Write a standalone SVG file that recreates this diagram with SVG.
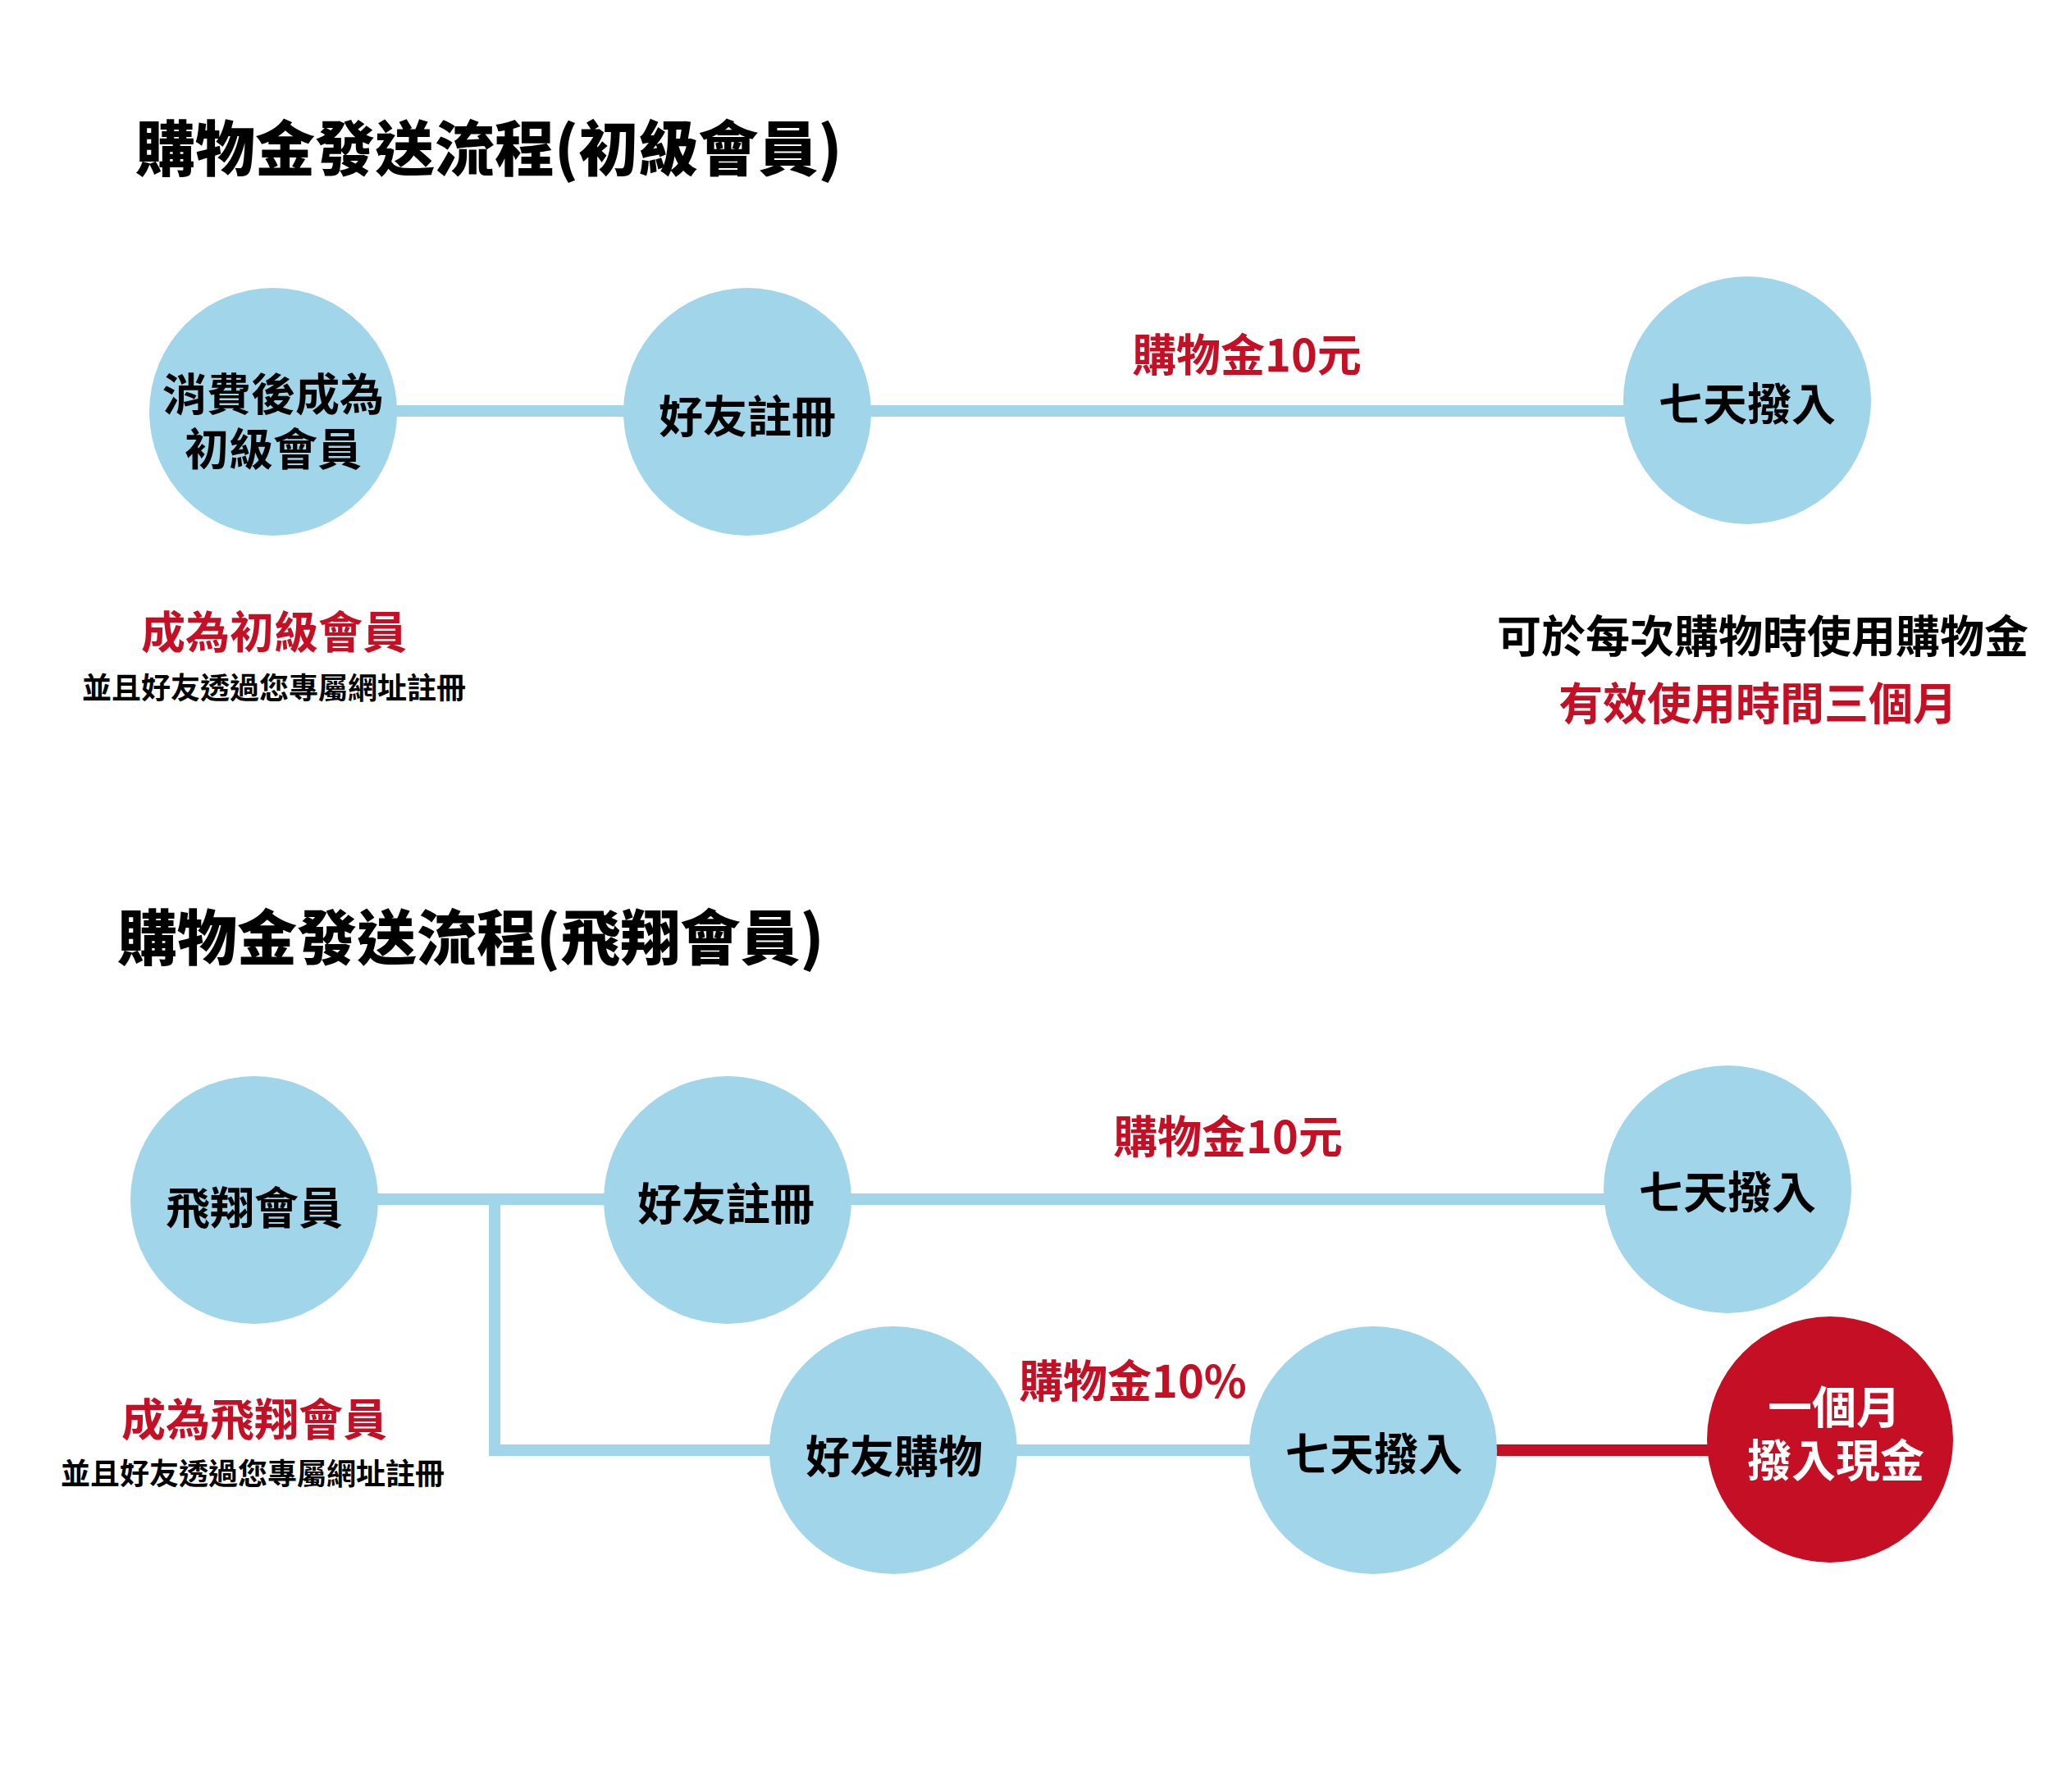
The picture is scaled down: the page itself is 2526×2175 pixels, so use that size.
<svg xmlns="http://www.w3.org/2000/svg" width="2526" height="2175" viewBox="0 0 2526 2175">
<style>
  text { font-family: "Noto Sans CJK TC", "Noto Sans CJK SC", sans-serif; font-weight: 700; }
  .title { font-size: 73px; font-weight: 900; fill: #000; }
  .node { fill: #a0d5ea; }
  .red-node { fill: #c40f25; }
  .nt { font-size: 54px; fill: #000; text-anchor: middle; }
  .nt-w { font-size: 54px; fill: #fff; text-anchor: middle; }
  .lbl { font-size: 54px; fill: #c40f25; text-anchor: middle; }
  .blk { font-size: 54px; fill: #000; text-anchor: middle; }
  .small { font-size: 36px; fill: #000; text-anchor: middle; }
  .conn { stroke: #a0d5ea; stroke-width: 14; fill: none; }
  .conn-red { stroke: #c40f25; stroke-width: 14; fill: none; }
</style>
<rect width="2526" height="2175" fill="#fff"/>

<text class="title" x="165" y="208">購物金發送流程(初級會員)</text>
<text class="title" x="143" y="1170">購物金發送流程(飛翔會員)</text>

<g id="connectors">
  <path class="conn" d="M333 501 H2130"/>
  <path class="conn" d="M310 1462 H2106"/>
  <path class="conn" d="M603 1462 V1768 H1674"/>
  <path class="conn-red" d="M1674 1768 H2231"/>
</g>

<g id="n1">
  <circle class="node" cx="333" cy="502" r="151"/>
  <text class="nt"><tspan x="333" y="501">消費後成為</tspan><tspan x="333" y="568">初級會員</tspan></text>
</g>
<g id="n2">
  <circle class="node" cx="911" cy="502" r="151"/>
  <text class="nt" x="911" y="528">好友註冊</text>
</g>
<g id="n3">
  <circle class="node" cx="2130" cy="488" r="151"/>
  <text class="nt" x="2130" y="513">七天撥入</text>
</g>

<text class="lbl" x="1520" y="453">購物金10元</text>
<text class="lbl" x="334" y="791">成為初級會員</text>
<text class="small" x="334" y="852">並且好友透過您專屬網址註冊</text>
<text class="blk" x="2149" y="796">可於每次購物時使用購物金</text>
<text class="lbl" x="2143" y="878">有效使用時間三個月</text>

<g id="m1">
  <circle class="node" cx="310" cy="1463" r="151"/>
  <text class="nt" x="310" y="1493">飛翔會員</text>
</g>
<g id="m2">
  <circle class="node" cx="887" cy="1463" r="151"/>
  <text class="nt" x="885" y="1488">好友註冊</text>
</g>
<g id="m3">
  <circle class="node" cx="2106" cy="1450" r="151"/>
  <text class="nt" x="2106" y="1474">七天撥入</text>
</g>
<g id="m4">
  <circle class="node" cx="1089" cy="1768" r="151"/>
  <text class="nt" x="1090" y="1796">好友購物</text>
</g>
<g id="m5">
  <circle class="node" cx="1674" cy="1768" r="151"/>
  <text class="nt" x="1675" y="1793">七天撥入</text>
</g>
<g id="m6">
  <circle class="red-node" cx="2231" cy="1755" r="150"/>
  <text class="nt-w"><tspan x="2236" y="1736">一個月</tspan><tspan x="2238" y="1801">撥入現金</tspan></text>
</g>

<text class="lbl" x="1497" y="1406">購物金10元</text>
<text class="lbl" x="1381" y="1704">購物金10%</text>
<text class="lbl" x="310" y="1751">成為飛翔會員</text>
<text class="small" x="308" y="1810">並且好友透過您專屬網址註冊</text>
</svg>
